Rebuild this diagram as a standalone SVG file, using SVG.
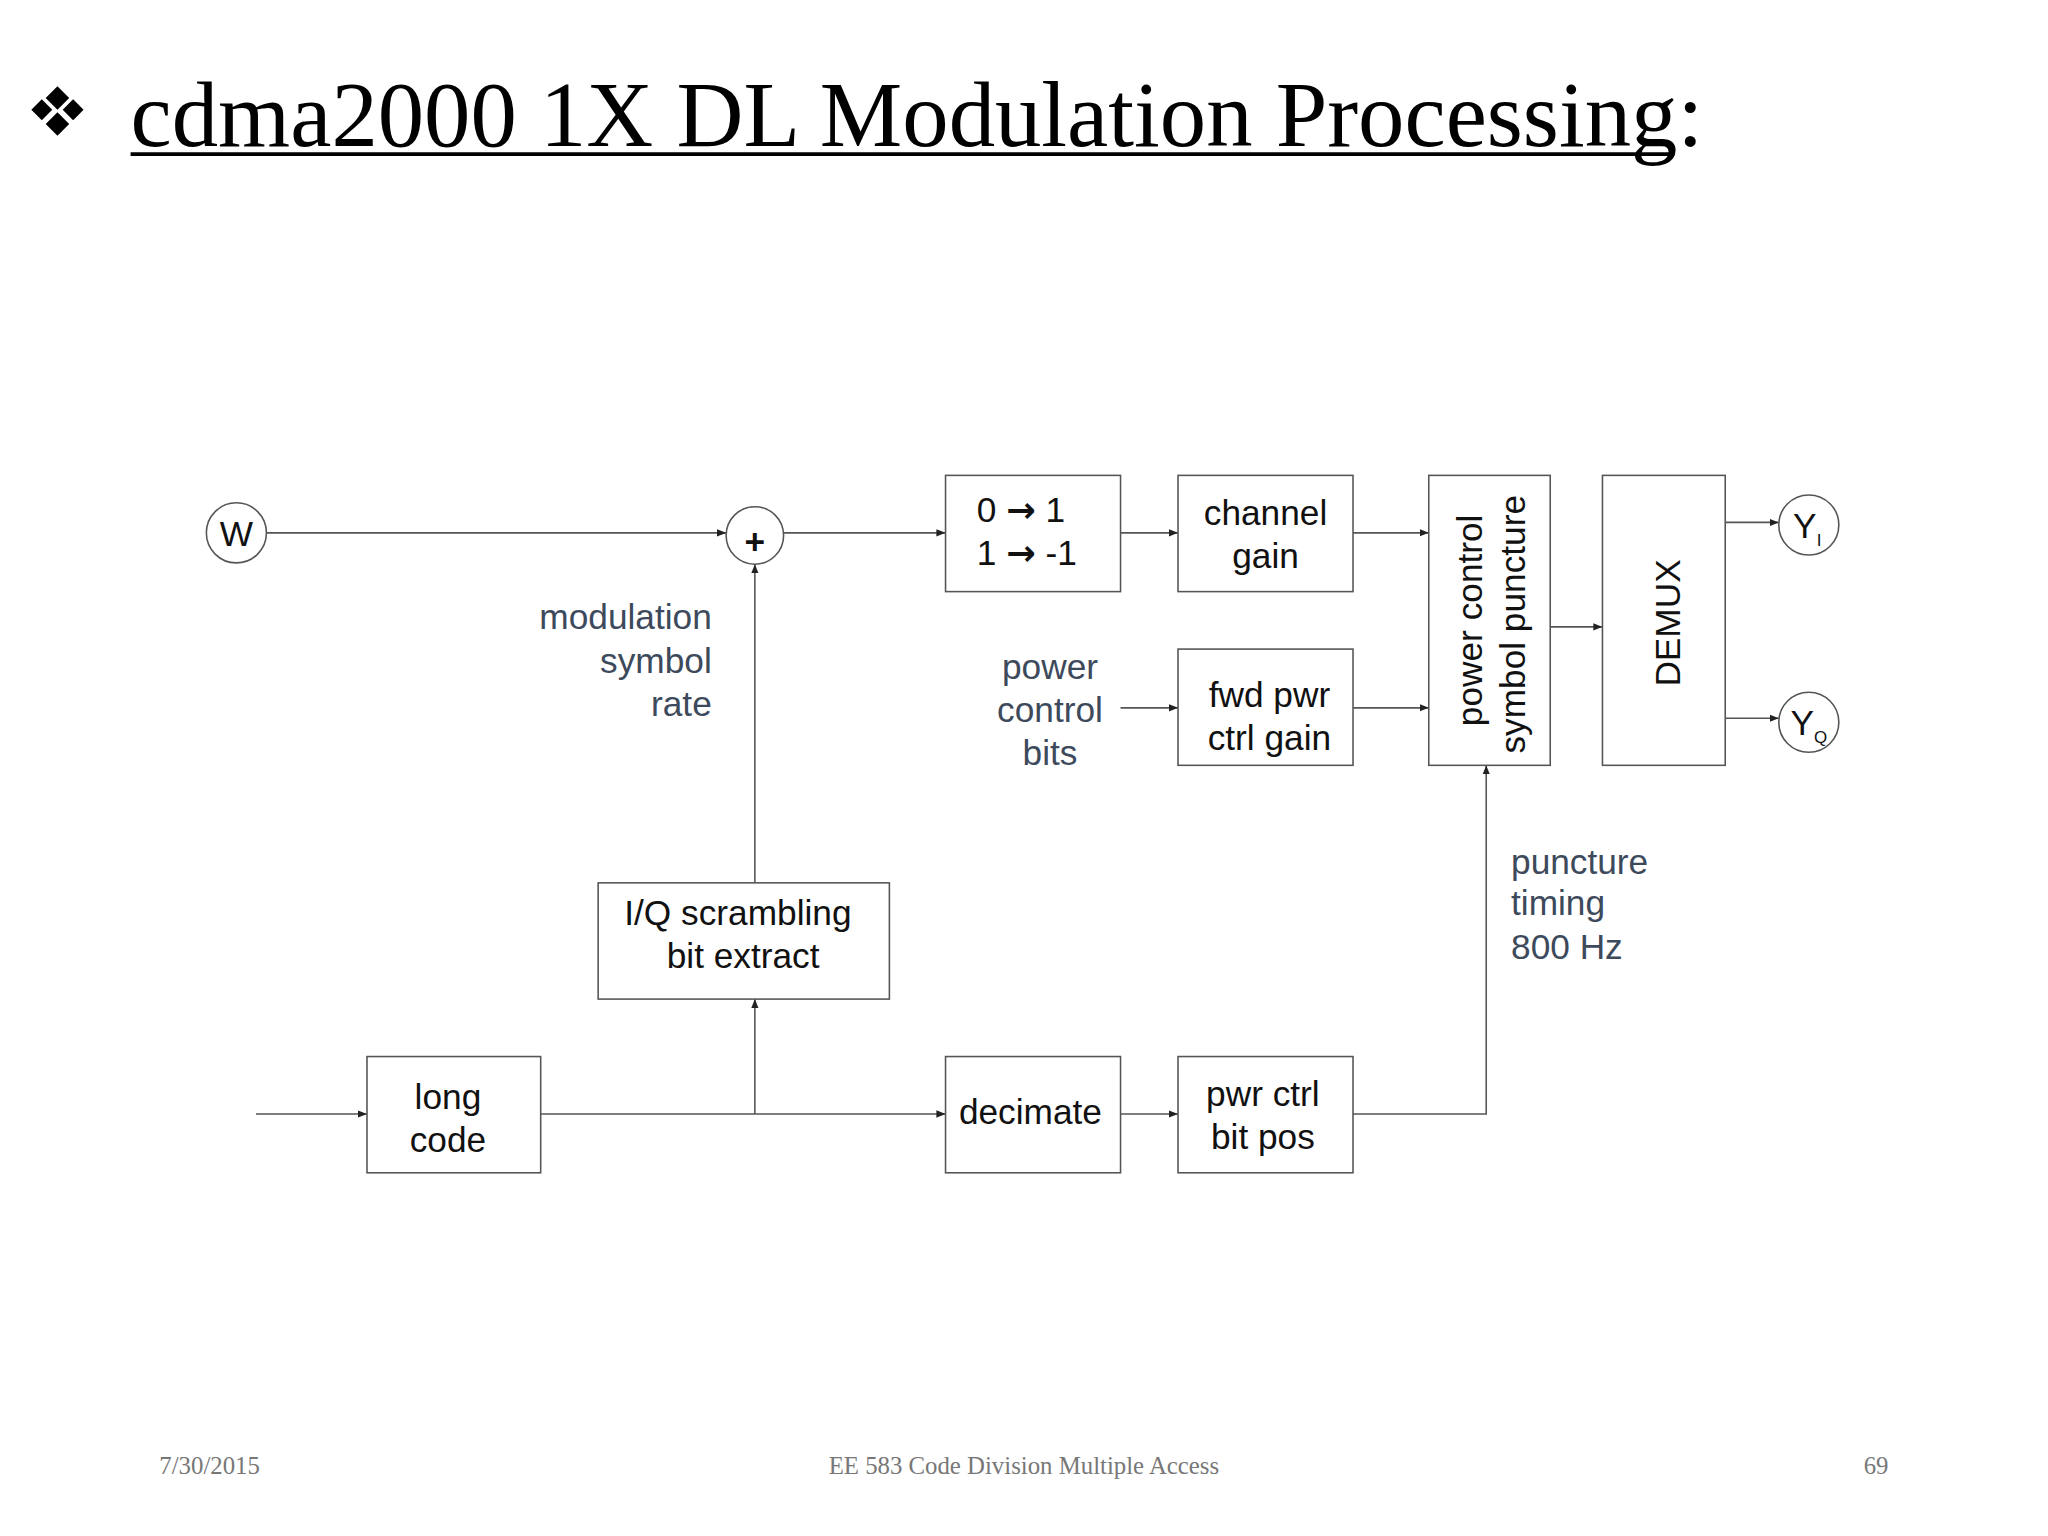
<svg xmlns="http://www.w3.org/2000/svg" width="2048" height="1536" viewBox="0 0 2048 1536">
<defs>
<marker id="a" viewBox="0 0 10 10" refX="10" refY="5" markerWidth="7" markerHeight="7" orient="auto" markerUnits="userSpaceOnUse"><path d="M0,1 L10,5 L0,9 z" fill="#222"/></marker>
<style>
.b{fill:#fff;stroke:#555;stroke-width:1.2}
.t{font-family:"Liberation Sans",Arial,sans-serif;font-size:27px;fill:#111}
.l{font-family:"Liberation Sans",Arial,sans-serif;font-size:27px;fill:#3d4a5c}
.c{fill:none;stroke:#555;stroke-width:1.2}
.f{font-family:"Liberation Serif","Times New Roman",serif;font-size:19px;fill:#777}
.ar{font-family:"DejaVu Sans",sans-serif;font-weight:bold}
</style>
</defs>
<rect width="2048" height="1536" fill="#fff"/>
<g transform="scale(1.306)">
<g id="title">
<g fill="#000"><path d="M44,66 l9,9 l-9,9 l-9,-9z"/><path d="M44,86 l9,9 l-9,9 l-9,-9z"/><path d="M32,76 l8,8 l-8,8 l-8,-8z"/><path d="M56,76 l8,8 l-8,8 l-8,-8z"/></g>
<text x="100" y="112" font-family="Liberation Serif,'Times New Roman',serif" font-size="71" fill="#000">cdma2000 1X DL Modulation Processing:</text>
<line x1="100" y1="118" x2="1280" y2="118" stroke="#000" stroke-width="3"/>
</g>
<g id="connectors" class="c">
<line x1="204" y1="408" x2="556" y2="408" marker-end="url(#a)"/>
<line x1="600" y1="408" x2="724" y2="408" marker-end="url(#a)"/>
<line x1="858" y1="408" x2="902" y2="408" marker-end="url(#a)"/>
<line x1="1036" y1="408" x2="1094" y2="408" marker-end="url(#a)"/>
<line x1="858" y1="542" x2="902" y2="542" marker-end="url(#a)"/>
<line x1="1036" y1="542" x2="1094" y2="542" marker-end="url(#a)"/>
<line x1="1187" y1="480" x2="1227" y2="480" marker-end="url(#a)"/>
<line x1="1321" y1="400" x2="1362" y2="400" marker-end="url(#a)"/>
<line x1="1321" y1="550" x2="1362" y2="550" marker-end="url(#a)"/>
<line x1="578" y1="676" x2="578" y2="432" marker-end="url(#a)"/>
<line x1="196" y1="853" x2="281" y2="853" marker-end="url(#a)"/>
<line x1="414" y1="853" x2="724" y2="853" marker-end="url(#a)"/>
<line x1="578" y1="853" x2="578" y2="765" marker-end="url(#a)"/>
<line x1="858" y1="853" x2="902" y2="853" marker-end="url(#a)"/>
<polyline points="1036,853 1138,853 1138,586" marker-end="url(#a)"/>
</g>
<g id="W"><circle cx="181" cy="408" r="23" class="b" stroke="#222"/><text x="181" y="418" class="t" text-anchor="middle" fill="#333">W</text></g>
<g id="adder"><circle cx="578" cy="410" r="22" class="b" stroke="#222"/><text x="578" y="424" class="t" text-anchor="middle" font-size="38" font-weight="bold">+</text></g>
<g id="map"><rect x="724" y="364" width="134" height="89" class="b"/><text x="748" y="400" class="t">0 <tspan class="ar">→</tspan> 1</text><text x="748" y="433" class="t">1 <tspan class="ar">→</tspan> -1</text></g>
<g id="chgain"><rect x="902" y="364" width="134" height="89" class="b"/><text x="969" y="402" class="t" text-anchor="middle">channel</text><text x="969" y="435" class="t" text-anchor="middle">gain</text></g>
<g id="fwd"><rect x="902" y="497" width="134" height="89" class="b"/><text x="972" y="541" class="t" text-anchor="middle">fwd pwr</text><text x="972" y="574" class="t" text-anchor="middle">ctrl gain</text></g>
<g id="punct"><rect x="1094" y="364" width="93" height="222" class="b"/><text transform="translate(1135,475) rotate(-90)" class="t" text-anchor="middle">power control</text><text transform="translate(1168,478) rotate(-90)" class="t" text-anchor="middle">symbol puncture</text></g>
<g id="demux"><rect x="1227" y="364" width="94" height="222" class="b"/><text transform="translate(1286,477) rotate(-90)" class="t" text-anchor="middle">DEMUX</text></g>
<g id="YI"><circle cx="1385" cy="402" r="23" class="b" stroke="#222"/><text x="1373" y="412" class="t" fill="#333">Y<tspan font-size="13" dy="6">I</tspan></text></g>
<g id="YQ"><circle cx="1385" cy="553" r="23" class="b" stroke="#222"/><text x="1371" y="563" class="t" fill="#333">Y<tspan font-size="13" dy="6">Q</tspan></text></g>
<g id="iq"><rect x="458" y="676" width="223" height="89" class="b"/><text x="565" y="708" class="t" text-anchor="middle">I/Q scrambling</text><text x="569" y="741" class="t" text-anchor="middle">bit extract</text></g>
<g id="long"><rect x="281" y="809" width="133" height="89" class="b"/><text x="343" y="849" class="t" text-anchor="middle">long</text><text x="343" y="882" class="t" text-anchor="middle">code</text></g>
<g id="decimate"><rect x="724" y="809" width="134" height="89" class="b"/><text x="789" y="861" class="t" text-anchor="middle">decimate</text></g>
<g id="pcpos"><rect x="902" y="809" width="134" height="89" class="b"/><text x="967" y="847" class="t" text-anchor="middle">pwr ctrl</text><text x="967" y="880" class="t" text-anchor="middle">bit pos</text></g>
<g id="labels">
<text class="l" text-anchor="end"><tspan x="545" y="482">modulation</tspan><tspan x="545" y="515">symbol</tspan><tspan x="545" y="548">rate</tspan></text>
<text class="l" text-anchor="middle"><tspan x="804" y="520">power</tspan><tspan x="804" y="553">control</tspan><tspan x="804" y="586">bits</tspan></text>
<text class="l"><tspan x="1157" y="669">puncture</tspan><tspan x="1157" y="701">timing</tspan><tspan x="1157" y="734">800 Hz</tspan></text>
</g>
<g id="footer">
<text x="122" y="1129" class="f">7/30/2015</text>
<text x="784" y="1129" class="f" text-anchor="middle">EE 583 Code Division Multiple Access</text>
<text x="1446" y="1129" class="f" text-anchor="end">69</text>
</g>
</g>
</svg>
